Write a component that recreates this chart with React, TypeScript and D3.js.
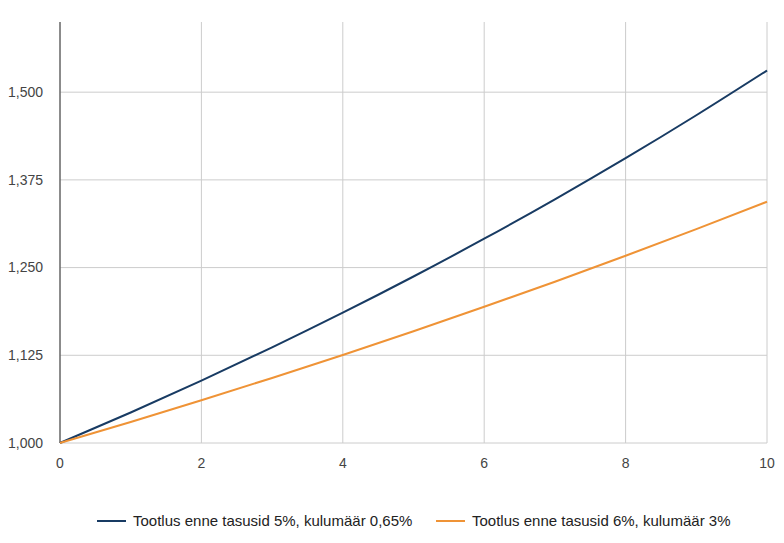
import React from "react";
import * as d3 from "d3";

const years = [0, 1, 2, 3, 4, 5, 6, 7, 8, 9, 10];
const seriesA = [1000, 1043.5, 1088.9, 1136.3, 1185.7, 1237.3, 1291.1, 1347.3, 1405.9, 1467.1, 1530.9];
const seriesB = [1000, 1030, 1060.9, 1092.7, 1125.5, 1159.3, 1194.1, 1229.9, 1266.8, 1304.8, 1343.9];
const seriesNames = ["Tootlus enne tasusid 5%, kulumäär 0,65%", "Tootlus enne tasusid 6%, kulumäär 3%"];
const seriesColors = ["#183b63", "#ef9336"];
const yTicks = [1000, 1125, 1250, 1375, 1500];
const xTicks = [0, 2, 4, 6, 8, 10];

export default function App() {
  const W = 784, H = 543;
  const left = 60, right = 767, top = 22, bottom = 443;
  const x = d3.scaleLinear().domain([0, 10]).range([left, right]);
  const y = d3.scaleLinear().domain([1000, 1600]).range([bottom, top]);
  const fmt = d3.format(",");
  const line = d3.line<number>().x((_, i) => x(years[i])).y((d) => y(d)).curve(d3.curveMonotoneX);
  const font = "'Liberation Sans', Arial, Helvetica, sans-serif";
  const series = [seriesA, seriesB];
  const legendX = [97, 436];
  return (
    <svg width={W} height={H} style={{ position: "absolute", left: 0, top: 0, background: "#fff" }}>
      <rect width={W} height={H} fill="#fff" />
      {yTicks.map((t) => (
        <line key={"gy" + t} x1={left} x2={right} y1={y(t)} y2={y(t)} stroke="#cccccc" strokeWidth={1} />
      ))}
      {xTicks.map((t) => (
        <line key={"gx" + t} x1={x(t)} x2={x(t)} y1={top} y2={bottom} stroke="#cccccc" strokeWidth={1} />
      ))}
      <line x1={left} x2={left} y1={top} y2={bottom} stroke="#333" strokeWidth={1} />
      {yTicks.map((t) => (
        <text key={"ty" + t} x={left - 17} y={y(t)} dy="0.35em" textAnchor="end" fontFamily={font} fontSize={14} fill="#444">
          {fmt(t)}
        </text>
      ))}
      {xTicks.map((t) => (
        <text key={"tx" + t} x={x(t)} y={bottom + 20} dy="0.35em" textAnchor="middle" fontFamily={font} fontSize={14} fill="#444">
          {t}
        </text>
      ))}
      {series.map((s, i) => (
        <path key={"s" + i} d={line(s) || ""} fill="none" stroke={seriesColors[i]} strokeWidth={2} />
      ))}
      {seriesNames.map((n, i) => (
        <g key={"l" + i}>
          <line x1={legendX[i]} x2={legendX[i] + 29} y1={521} y2={521} stroke={seriesColors[i]} strokeWidth={2} />
          <text x={legendX[i] + 36} y={521} dy="0.35em" fontFamily={font} fontSize={15} fill="#222">
            {n}
          </text>
        </g>
      ))}
    </svg>
  );
}
